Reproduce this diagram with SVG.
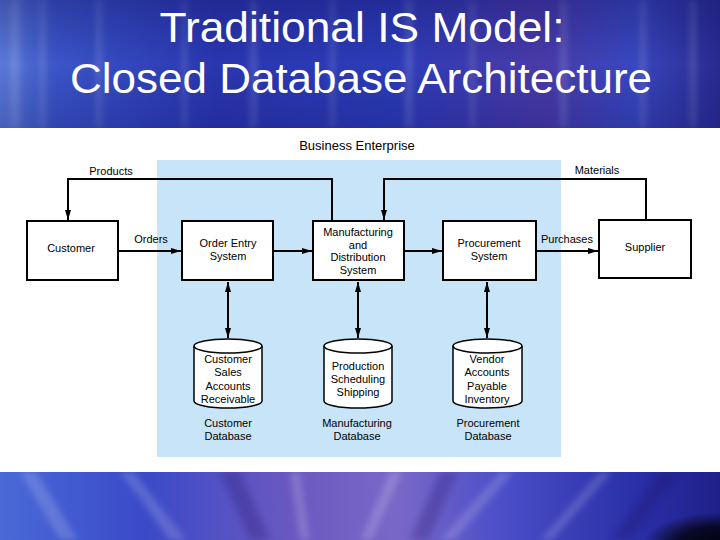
<svg xmlns="http://www.w3.org/2000/svg" width="720" height="540" viewBox="0 0 720 540">
<defs>
<linearGradient id="topBg" x1="0" y1="0" x2="1" y2="0">
<stop offset="0" stop-color="#5a7ad8"/>
<stop offset="0.08" stop-color="#3a55c8"/>
<stop offset="0.3" stop-color="#2a36b0"/>
<stop offset="0.55" stop-color="#2c3cb8"/>
<stop offset="0.75" stop-color="#4a3aa8"/>
<stop offset="0.88" stop-color="#3848c0"/>
<stop offset="1" stop-color="#2a2a90"/>
</linearGradient>
<linearGradient id="topShade" x1="0" y1="0" x2="0" y2="1">
<stop offset="0" stop-color="#101060" stop-opacity="0.35"/>
<stop offset="0.5" stop-color="#101060" stop-opacity="0"/>
<stop offset="1" stop-color="#101060" stop-opacity="0.25"/>
</linearGradient>
<linearGradient id="botBg" x1="0" y1="0" x2="1" y2="0">
<stop offset="0" stop-color="#4a6ad8"/>
<stop offset="0.2" stop-color="#3a4ac8"/>
<stop offset="0.4" stop-color="#6a58c0"/>
<stop offset="0.55" stop-color="#7a68c8"/>
<stop offset="0.7" stop-color="#4a4ec8"/>
<stop offset="0.88" stop-color="#2a30a8"/>
<stop offset="1" stop-color="#20208a"/>
</linearGradient>
<radialGradient id="corner" gradientUnits="userSpaceOnUse" cx="720" cy="545" r="55" gradientTransform="translate(720,545) scale(1.4,0.6) translate(-720,-545)">
<stop offset="0" stop-color="#02020e"/>
<stop offset="0.55" stop-color="#05051a" stop-opacity="0.9"/>
<stop offset="1" stop-color="#05051a" stop-opacity="0"/>
</radialGradient>
<filter id="blur" x="-20%" y="-20%" width="140%" height="140%">
<feGaussianBlur stdDeviation="3"/>
</filter>
<marker id="ah" viewBox="0 0 10 6" refX="10" refY="3" markerWidth="10" markerHeight="6" markerUnits="userSpaceOnUse" orient="auto-start-reverse">
<path d="M0,0 L10,3 L0,6 z" fill="#000"/>
</marker>
<style>
.t{font-family:"Liberation Sans",Arial,sans-serif;font-size:11px;fill:#000;text-anchor:middle}
.box{fill:#fff;stroke:#000;stroke-width:2}
.cyl{fill:#fff;stroke:#000;stroke-width:1.5}
.arr{fill:none;stroke:#000;stroke-width:2;marker-end:url(#ah)}
.arr2{fill:none;stroke:#000;stroke-width:2;marker-start:url(#ah);marker-end:url(#ah)}
.title{font-family:"Liberation Sans",Arial,sans-serif;font-size:43px;fill:#fff;text-anchor:middle}
.st{fill:#fff}
</style>
</defs>
<!-- background bands -->
<rect x="0" y="0" width="720" height="128" fill="url(#topBg)"/>
<g opacity="0.15" filter="url(#blur)">
<rect class="st" x="10" y="0" width="10" height="128"/>
<rect class="st" x="40" y="0" width="5" height="128"/>
<rect class="st" x="96" y="0" width="6" height="128"/>
<rect class="st" x="182" y="0" width="5" height="128"/>
<rect class="st" x="250" y="0" width="7" height="128"/>
<rect class="st" x="330" y="0" width="5" height="128"/>
<rect class="st" x="405" y="0" width="8" height="128"/>
<rect class="st" x="470" y="0" width="5" height="128"/>
<rect class="st" x="560" y="0" width="7" height="128"/>
<rect class="st" x="640" y="0" width="6" height="128"/>
<rect class="st" x="690" y="0" width="6" height="128"/>
</g>
<rect x="0" y="0" width="720" height="128" fill="url(#topShade)"/>
<rect x="0" y="472" width="720" height="68" fill="url(#botBg)"/>
<g opacity="0.16" filter="url(#blur)">
<path d="M20,472 L60,540 L78,540 L36,472 z" fill="#fff"/>
<path d="M120,472 L170,540 L186,540 L134,472 z" fill="#fff"/>
<path d="M290,472 L300,540 L310,540 L300,472 z" fill="#fff"/>
<path d="M390,472 L360,540 L372,540 L402,472 z" fill="#fff"/>
<path d="M500,472 L440,540 L454,540 L514,472 z" fill="#fff"/>
<path d="M600,472 L540,540 L552,540 L612,472 z" fill="#fff"/>
</g>
<g opacity="0.25" filter="url(#blur)">
<path d="M220,472 L250,540 L270,540 L240,472 z" fill="#201060"/>
<path d="M440,472 L410,540 L428,540 L458,472 z" fill="#201060"/>
<path d="M660,472 L610,540 L630,540 L680,472 z" fill="#201060"/>
</g>
<rect x="600" y="490" width="120" height="50" fill="url(#corner)"/>
<!-- white panel -->
<rect x="0" y="128" width="720" height="344" fill="#fff"/>
<rect x="157" y="160" width="404" height="297" fill="#c8e4f8"/>
<!-- title -->
<text class="title" x="362" y="42" textLength="405" lengthAdjust="spacingAndGlyphs">Traditional IS Model:</text>
<text class="title" x="361" y="93" textLength="582" lengthAdjust="spacingAndGlyphs">Closed Database Architecture</text>
<text class="t" x="357" y="150" style="font-size:13px">Business Enterprise</text>
<!-- connectors -->
<g id="connectors">
<path class="arr" d="M332,221 V179 H68 V220"/>
<path class="arr" d="M646,219 V179 H384 V220"/>
<path class="arr" d="M118,251 H181"/>
<path class="arr" d="M273,251 H312"/>
<path class="arr" d="M404,251 H442"/>
<path class="arr" d="M536,251 H598"/>
<path class="arr2" d="M228,282 V338"/>
<path class="arr2" d="M358,282 V338"/>
<path class="arr2" d="M487,282 V338"/>
<text class="t" x="111" y="175">Products</text>
<text class="t" x="151" y="243">Orders</text>
<text class="t" x="597" y="174">Materials</text>
<text class="t" x="567" y="243">Purchases</text>
</g>
<!-- nodes -->
<g id="customer">
<rect class="box" x="27" y="221" width="91" height="59"/>
<text class="t" x="71" y="252">Customer</text>
</g>
<g id="order-entry">
<rect class="box" x="182" y="221" width="91" height="59"/>
<text class="t" x="228" y="247">Order Entry</text>
<text class="t" x="228" y="260">System</text>
</g>
<g id="manufacturing">
<rect class="box" x="313" y="221" width="91" height="59"/>
<text class="t" x="358" y="236">Manufacturing</text>
<text class="t" x="358" y="248.5">and</text>
<text class="t" x="358" y="261">Distribution</text>
<text class="t" x="358" y="273.5">System</text>
</g>
<g id="procurement">
<rect class="box" x="443" y="221" width="93" height="59"/>
<text class="t" x="489" y="247">Procurement</text>
<text class="t" x="489" y="260">System</text>
</g>
<g id="supplier">
<rect class="box" x="599" y="220" width="92" height="58"/>
<text class="t" x="645" y="251">Supplier</text>
</g>
<g id="customer-db">
<path class="cyl" d="M194,346 V401 A34,7 0 0 0 262,401 V346"/>
<ellipse class="cyl" cx="228" cy="346" rx="34" ry="7"/>
<text class="t" x="228" y="363">Customer</text>
<text class="t" x="228" y="376">Sales</text>
<text class="t" x="228" y="390">Accounts</text>
<text class="t" x="228" y="403">Receivable</text>
<text class="t" x="228" y="427">Customer</text>
<text class="t" x="228" y="440">Database</text>
</g>
<g id="manufacturing-db">
<path class="cyl" d="M324,346 V401 A34,7 0 0 0 392,401 V346"/>
<ellipse class="cyl" cx="358" cy="346" rx="34" ry="7"/>
<text class="t" x="358" y="370">Production</text>
<text class="t" x="358" y="383">Scheduling</text>
<text class="t" x="358" y="396">Shipping</text>
<text class="t" x="357" y="427">Manufacturing</text>
<text class="t" x="357" y="440">Database</text>
</g>
<g id="procurement-db">
<path class="cyl" d="M453,346 V401 A34.5,7 0 0 0 522,401 V346"/>
<ellipse class="cyl" cx="487.5" cy="346" rx="34.5" ry="7"/>
<text class="t" x="487" y="363">Vendor</text>
<text class="t" x="487" y="376">Accounts</text>
<text class="t" x="487" y="390">Payable</text>
<text class="t" x="487" y="403">Inventory</text>
<text class="t" x="488" y="427">Procurement</text>
<text class="t" x="488" y="440">Database</text>
</g>
</svg>
